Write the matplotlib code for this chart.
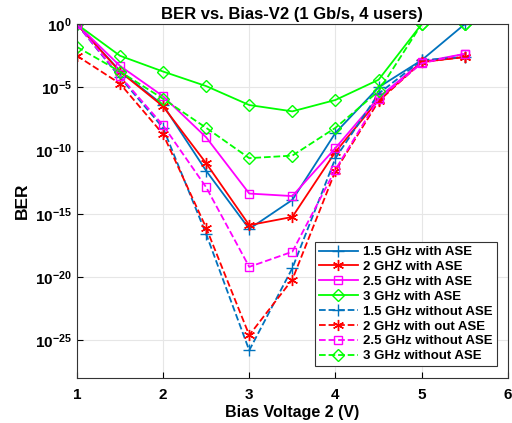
import numpy as np
import matplotlib
matplotlib.use('Agg')
import matplotlib.pyplot as plt

plt.rcParams['font.family'] = ['Liberation Sans', 'DejaVu Sans']
plt.rcParams['font.weight'] = 'bold'
plt.rcParams['mathtext.fontset'] = 'custom'
plt.rcParams['mathtext.rm'] = 'Liberation Sans'
plt.rcParams['mathtext.bf'] = 'Liberation Sans:bold'

# Bias voltage sweep (V)
bias = [1, 1.5, 2, 2.5, 3, 3.5, 4, 4.5, 5, 5.5]

# log10(BER) for each case
ber_15_ase = [0, -3.7, -6.4, -11.6, -16.2, -13.9, -8.6, -5.0, -2.85, 0]
ber_2_ase = [0, -3.75, -6.5, -11.0, -15.9, -15.25, -10.1, -6.0, -3.0, -2.6]
ber_25_ase = [0, -3.3, -5.7, -8.95, -13.4, -13.6, -9.8, -5.8, -3.0, -2.35]
ber_3_ase = [0, -2.5, -3.75, -4.9, -6.4, -6.9, -6.0, -4.4, 0, 0]
ber_15_noase = [0, -4.2, -8.2, -16.6, -25.8, -19.3, -10.6, -5.5, -2.85, -2.6]
ber_2_noase = [-2.5, -4.7, -8.7, -16.1, -24.6, -20.2, -11.6, -6.1, -3.0, -2.6]
ber_25_noase = [0, -4.1, -8.0, -12.9, -19.2, -18.0, -11.5, -5.9, -3.1, -2.35]
ber_3_noase = [-1.8, -3.75, -5.9, -8.2, -10.6, -10.4, -8.2, -5.3, 0, 0]

labels = ['1.5 GHz with ASE', '2 GHZ with ASE', '2.5 GHz with ASE', '3 GHz with ASE',
          '1.5 GHz without ASE', '2 GHz with out ASE', '2.5 GHz without ASE',
          '3 GHz without ASE']

series = [ber_15_ase, ber_2_ase, ber_25_ase, ber_3_ase,
          ber_15_noase, ber_2_noase, ber_25_noase, ber_3_noase]
colors = ['#0072BD', '#FF0000', '#FF00FF', '#00FF00'] * 2
# asterisk marker as a 6-armed star polygon
markers = ['+', (6, 2, 0), 's', 'D'] * 2
sizes = [8, 8, 6, 6] * 2
styles = ['-'] * 4 + ['--'] * 4

fig = plt.figure(figsize=(5.12, 4.23), dpi=100)
ax = fig.add_axes([0.150, 0.106, 0.842, 0.837])

for vals, lab, c, m, ms, ls in zip(series, labels, colors, markers, sizes, styles):
    ax.semilogy(bias, 10.0 ** np.array(vals), linestyle=ls, color=c, marker=m,
                markersize=ms, markerfacecolor='none',
                markeredgewidth=1.0, linewidth=1.3, label=lab)

ax.set_xlim(1, 6)
ax.set_ylim(1e-28, 1)
ax.set_xticks([1, 2, 3, 4, 5, 6])
yt = [0, -5, -10, -15, -20, -25]
ax.set_yticks([10.0 ** e for e in yt])
ax.set_yticklabels([r'$\mathbf{10^{%d}}$' % e for e in yt])
ax.minorticks_off()
ax.tick_params(direction='in', labelsize=11, length=4, width=0.8)
ax.tick_params(axis='x', pad=7)
ax.grid(True, color='#e6e6e6', linewidth=0.8)
for s in ax.spines.values():
    s.set_linewidth(0.8)
    s.set_color('#333333')

ax.set_title('BER vs. Bias-V2 (1 Gb/s, 4 users)', fontsize=12, fontweight='bold', pad=4)
ax.set_xlabel('Bias Voltage 2 (V)', fontsize=11.5, fontweight='bold', labelpad=2)
ax.set_ylabel('BER', fontsize=12.5, fontweight='bold')

leg = ax.legend(loc='lower right', fontsize=9.5, handlelength=3.0, labelspacing=0.2,
                borderpad=0.3, fancybox=False, framealpha=1, edgecolor='#333333',
                bbox_to_anchor=(0.99, 0.015), handletextpad=0.4)
leg.get_frame().set_linewidth(0.8)

fig.savefig('out.png', dpi=100)
